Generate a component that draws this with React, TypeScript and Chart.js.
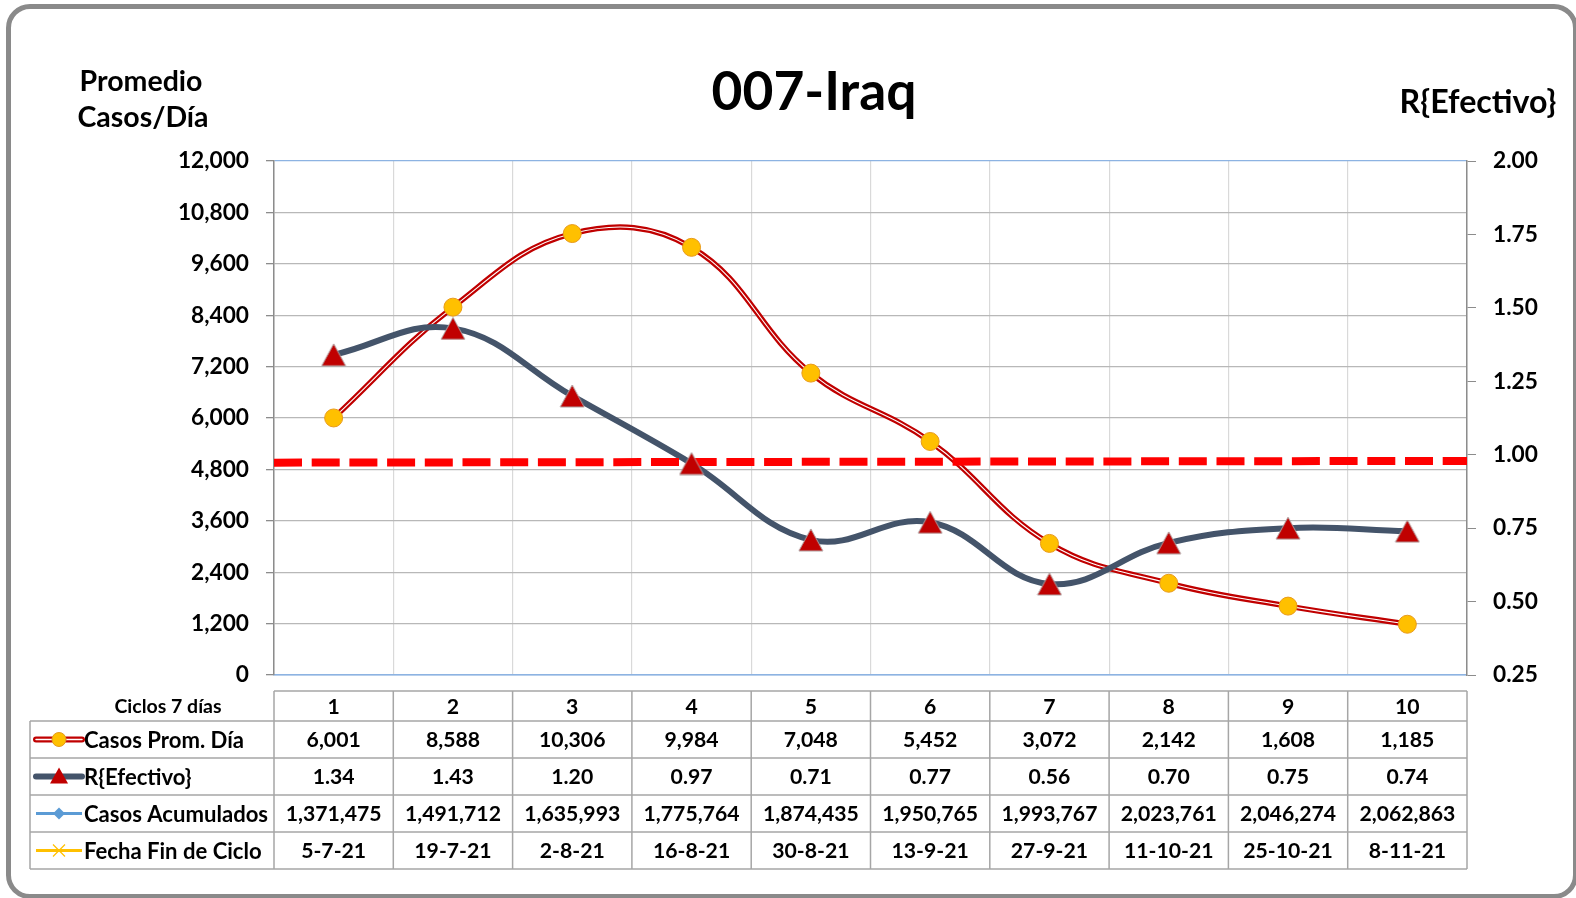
import { useEffect, useRef } from 'react';
import { Chart, registerables } from 'chart.js';

Chart.register(...registerables);

// ---------- data ----------
const cycles = ['1', '2', '3', '4', '5', '6', '7', '8', '9', '10'];
const casosPromDia = [6001, 8588, 10306, 9984, 7048, 5452, 3072, 2142, 1608, 1185];
const rEfectivo = [1.34, 1.43, 1.2, 0.97, 0.71, 0.77, 0.56, 0.7, 0.75, 0.74];
const casosAcumulados = [1371475, 1491712, 1635993, 1775764, 1874435, 1950765, 1993767, 2023761, 2046274, 2062863];
const fechaFinCiclo = ['5-7-21', '19-7-21', '2-8-21', '16-8-21', '30-8-21', '13-9-21', '27-9-21', '11-10-21', '25-10-21', '8-11-21'];
const umbralLine = [0.973, 0.979]; // dashed reference line (start, end) on R axis
const leftTicks = [0, 1200, 2400, 3600, 4800, 6000, 7200, 8400, 9600, 10800, 12000];
const rightTicks = [0.25, 0.5, 0.75, 1.0, 1.25, 1.5, 1.75, 2.0];

const titleText = '007-Iraq';
const leftTitle = ['Promedio', 'Casos/Día'];
const rightTitle = 'R{Efectivo}';
const headerLabel = 'Ciclos 7 días';
const rowLabels = ['Casos Prom. Día', 'R{Efectivo}', 'Casos Acumulados', 'Fecha Fin de Ciclo'];

const FONT = 'Lato, "Open Sans", sans-serif';

// pick a font size so that a sample string has the width seen in the reference
function fitSize(sample: string, targetWidth: number) {
  const c = document.createElement('canvas');
  const g = c.getContext('2d')!;
  g.font = `bold 100px ${FONT}`;
  const w = g.measureText(sample).width || 100;
  return Math.round((100 * targetWidth / w) * 10) / 10;
}

function makeTriangle(w: number, h: number, fill: string, stroke: string) {
  const c = document.createElement('canvas');
  c.width = w + 2;
  c.height = h + 2;
  const g = c.getContext('2d')!;
  g.beginPath();
  g.moveTo(c.width / 2, 1);
  g.lineTo(c.width - 1, c.height - 1);
  g.lineTo(1, c.height - 1);
  g.closePath();
  g.fillStyle = fill;
  g.fill();
  g.strokeStyle = stroke;
  g.lineWidth = 1;
  g.stroke();
  return c;
}

const fmtInt = (v: number) => v.toLocaleString('en-US');

export default function App() {
  const ref = useRef<HTMLCanvasElement | null>(null);

  useEffect(() => {
    if (!ref.current) return;
    const sizes = {
      title: fitSize(titleText, 205),
      axisTitle: fitSize('Promedio', 123),
      rightTitle: fitSize(rightTitle, 157),
      tick: fitSize('12,000', 71),
      cell: fitSize('1,371,475', 96),
      rowLabel: fitSize('Casos Prom. Día', 160),
      header: fitSize(headerLabel, 107),
    };

    const textPlugin = {
      id: 'texts',
      afterDraw(chart: any) {
        const ctx = chart.ctx as CanvasRenderingContext2D;
        ctx.save();
        ctx.fillStyle = '#000';
        ctx.textBaseline = 'alphabetic';
        ctx.textAlign = 'center';
        ctx.font = `bold ${sizes.title}px ${FONT}`;
        ctx.fillText(titleText, 814, 110);
        ctx.font = `bold ${sizes.axisTitle}px ${FONT}`;
        ctx.fillText(leftTitle[0], 141, 91);
        ctx.fillText(leftTitle[1], 143, 127);
        ctx.font = `bold ${sizes.rightTitle}px ${FONT}`;
        ctx.fillText(rightTitle, 1478, 113);
        ctx.restore();
      },
    };

    const tablePlugin = {
      id: 'dataTable',
      afterDraw(chart: any) {
        const ctx = chart.ctx as CanvasRenderingContext2D;
        const xs = chart.scales.x;
        const n = cycles.length;
        const centers = cycles.map((_, i) => xs.getPixelForValue(i));
        const colW = n > 1 ? centers[1] - centers[0] : xs.width;
        const edges = [...centers.map((c) => c - colW / 2), centers[n - 1] + colW / 2];
        const headerTop = chart.chartArea.bottom + 16;
        const headerH = 30;
        const rowH = 37;
        const tableLeft = 30;
        const labelRight = edges[0];
        const rowTops = rowLabels.map((_, i) => headerTop + headerH + i * rowH);
        const bottom = headerTop + headerH + rowLabels.length * rowH;

        ctx.save();
        ctx.strokeStyle = '#a6a6a6';
        ctx.lineWidth = 1.5;
        ctx.beginPath();
        ctx.moveTo(labelRight, headerTop);
        ctx.lineTo(edges[n], headerTop);
        for (let i = 0; i <= rowLabels.length; i++) {
          const y = headerTop + headerH + i * rowH;
          ctx.moveTo(tableLeft, y);
          ctx.lineTo(edges[n], y);
        }
        for (let i = 0; i <= n; i++) {
          ctx.moveTo(edges[i], headerTop);
          ctx.lineTo(edges[i], bottom);
        }
        ctx.moveTo(tableLeft, headerTop + headerH);
        ctx.lineTo(tableLeft, bottom);
        ctx.stroke();

        ctx.fillStyle = '#000';
        ctx.textBaseline = 'middle';
        ctx.textAlign = 'center';
        ctx.font = `bold ${sizes.header}px ${FONT}`;
        ctx.fillText(headerLabel, (tableLeft + labelRight) / 2 + 16, headerTop + headerH / 2 + 1);
        ctx.font = `bold ${sizes.cell}px ${FONT}`;
        cycles.forEach((c, i) => ctx.fillText(c, centers[i], headerTop + headerH / 2 + 1));

        const rows: string[][] = [
          casosPromDia.map(fmtInt),
          rEfectivo.map((v) => v.toFixed(2)),
          casosAcumulados.map(fmtInt),
          fechaFinCiclo,
        ];
        rows.forEach((row, r) => {
          const yc = rowTops[r] + rowH / 2 + 1;
          row.forEach((txt, i) => ctx.fillText(txt, centers[i], yc));
        });

        ctx.textAlign = 'left';
        const kx0 = 36;
        const kx1 = 82;
        const km = 59;
        rowLabels.forEach((lab, r) => {
          const yc = rowTops[r] + rowH / 2;
          ctx.fillStyle = '#000';
          ctx.font = `bold ${sizes.rowLabel}px ${FONT}`;
          ctx.fillText(lab, 84, yc + 1);
          if (r === 0) {
            ctx.lineCap = 'round';
            ctx.strokeStyle = '#c00000';
            ctx.lineWidth = 6;
            ctx.beginPath(); ctx.moveTo(kx0, yc); ctx.lineTo(kx1, yc); ctx.stroke();
            ctx.strokeStyle = '#ffffff';
            ctx.lineWidth = 1.5;
            ctx.beginPath(); ctx.moveTo(kx0, yc); ctx.lineTo(kx1, yc); ctx.stroke();
            ctx.fillStyle = '#ffc000';
            ctx.strokeStyle = '#e39a1c';
            ctx.lineWidth = 1;
            ctx.beginPath(); ctx.arc(km, yc, 7, 0, Math.PI * 2); ctx.fill(); ctx.stroke();
          } else if (r === 1) {
            ctx.lineCap = 'round';
            ctx.strokeStyle = '#44546a';
            ctx.lineWidth = 6;
            ctx.beginPath(); ctx.moveTo(kx0, yc); ctx.lineTo(kx1, yc); ctx.stroke();
            ctx.fillStyle = '#c00000';
            ctx.beginPath(); ctx.moveTo(km, yc - 9); ctx.lineTo(km + 9, yc + 7); ctx.lineTo(km - 9, yc + 7); ctx.closePath(); ctx.fill();
          } else if (r === 2) {
            ctx.lineCap = 'butt';
            ctx.strokeStyle = '#5b9bd5';
            ctx.lineWidth = 3;
            ctx.beginPath(); ctx.moveTo(kx0, yc); ctx.lineTo(kx1, yc); ctx.stroke();
            ctx.fillStyle = '#5b9bd5';
            ctx.beginPath(); ctx.moveTo(km, yc - 6); ctx.lineTo(km + 6, yc); ctx.lineTo(km, yc + 6); ctx.lineTo(km - 6, yc); ctx.closePath(); ctx.fill();
          } else {
            ctx.lineCap = 'butt';
            ctx.strokeStyle = '#ffc000';
            ctx.lineWidth = 3;
            ctx.beginPath(); ctx.moveTo(kx0, yc); ctx.lineTo(kx1, yc); ctx.stroke();
            ctx.lineWidth = 1.2;
            ctx.beginPath();
            ctx.moveTo(km - 6, yc - 6); ctx.lineTo(km + 6, yc + 6);
            ctx.moveTo(km + 6, yc - 6); ctx.lineTo(km - 6, yc + 6);
            ctx.stroke();
          }
        });
        ctx.restore();
      },
    };

    const tri = makeTriangle(24, 22, '#c00000', '#b0a0a0');
    const tickFont = { family: FONT, size: sizes.tick, weight: 'bold' as const };

    const chart = new Chart(ref.current, {
      type: 'line',
      data: {
        labels: cycles,
        datasets: [
          {
            label: 'R markers',
            data: rEfectivo,
            yAxisID: 'y1',
            showLine: false,
            pointStyle: tri as any,
            order: 0,
          },
          {
            label: 'Casos markers',
            data: casosPromDia,
            yAxisID: 'y',
            showLine: false,
            pointRadius: 9,
            pointBackgroundColor: '#ffc000',
            pointBorderColor: '#e89a1a',
            pointBorderWidth: 1,
            order: 1,
          },
          {
            label: 'Umbral',
            data: [
              { x: 0, y: umbralLine[0] },
              { x: 1, y: umbralLine[1] },
            ] as any,
            xAxisID: 'x2',
            yAxisID: 'y1',
            borderColor: '#ff0000',
            borderWidth: 8,
            borderDash: [28, 9.7],
            borderCapStyle: 'butt',
            pointRadius: 0,
            order: 2,
          },
          {
            label: 'R{Efectivo}',
            data: rEfectivo,
            yAxisID: 'y1',
            borderColor: '#44546a',
            borderWidth: 6,
            tension: 0.4,
            pointRadius: 0,
            order: 3,
          },
          {
            label: 'Casos inner',
            data: casosPromDia,
            yAxisID: 'y',
            borderColor: '#ffffff',
            borderWidth: 1.1,
            tension: 0.4,
            pointRadius: 0,
            order: 4,
          },
          {
            label: 'Casos Prom. Día',
            data: casosPromDia,
            yAxisID: 'y',
            borderColor: '#c00000',
            borderWidth: 5.5,
            tension: 0.4,
            pointRadius: 0,
            order: 5,
          },
        ],
      },
      options: {
        responsive: false,
        animation: false,
        events: [],
        layout: { padding: { top: 161, left: 0, right: 0, bottom: 0 } },
        plugins: {
          legend: { display: false },
          tooltip: { enabled: false },
          title: { display: false },
        },
        scales: {
          x: {
            type: 'category',
            offset: true,
            grid: { offset: true, color: '#d9d9d9', lineWidth: 1.2, drawTicks: false },
            ticks: { display: false },
            border: { display: true, color: '#8db3e2', width: 1.5 },
            afterFit: (s: any) => {
              s.height = 223;
            },
          },
          x2: { type: 'linear', display: false, min: 0, max: 1 },
          y: {
            position: 'left',
            min: 0,
            max: 12000,
            afterBuildTicks: (s: any) => {
              s.ticks = leftTicks.map((v) => ({ value: v }));
            },
            ticks: {
              font: tickFont,
              color: '#000',
              padding: 17,
              callback: (v: any) => fmtInt(Number(v)),
            },
            grid: {
              color: (c: any) =>
                c.tick && (c.tick.value === leftTicks[0] || c.tick.value === leftTicks[leftTicks.length - 1])
                  ? '#8db3e2'
                  : '#b8b8b8',
              lineWidth: 1.3,
              tickColor: '#8c8c8c',
              tickLength: 8,
            },
            border: { color: '#8c8c8c', width: 1.5 },
            afterFit: (s: any) => {
              s.width = 274;
            },
          },
          y1: {
            position: 'right',
            min: 0.25,
            max: 2,
            afterBuildTicks: (s: any) => {
              s.ticks = rightTicks.map((v) => ({ value: v }));
            },
            ticks: {
              font: tickFont,
              color: '#000',
              padding: 17,
              callback: (v: any) => Number(v).toFixed(2),
            },
            grid: { drawOnChartArea: false, color: '#8c8c8c', tickLength: 9 },
            border: { color: '#8c8c8c', width: 1.5 },
            afterFit: (s: any) => {
              s.width = 109;
            },
          },
        },
      } as any,
      plugins: [textPlugin, tablePlugin],
    });
    return () => chart.destroy();
  }, []);

  return (
    <div style={{ position: 'absolute', left: 0, top: 0, width: 1576, height: 898, overflow: 'hidden', background: '#fff' }}>
      <div
        style={{
          position: 'absolute',
          left: 6,
          top: 4,
          width: 1572,
          height: 895,
          boxSizing: 'border-box',
          border: '5px solid #8a8a8a',
          borderRadius: 24,
        }}
      />
      <canvas ref={ref} width={1576} height={898} style={{ position: 'absolute', left: 0, top: 0 }} />
    </div>
  );
}
